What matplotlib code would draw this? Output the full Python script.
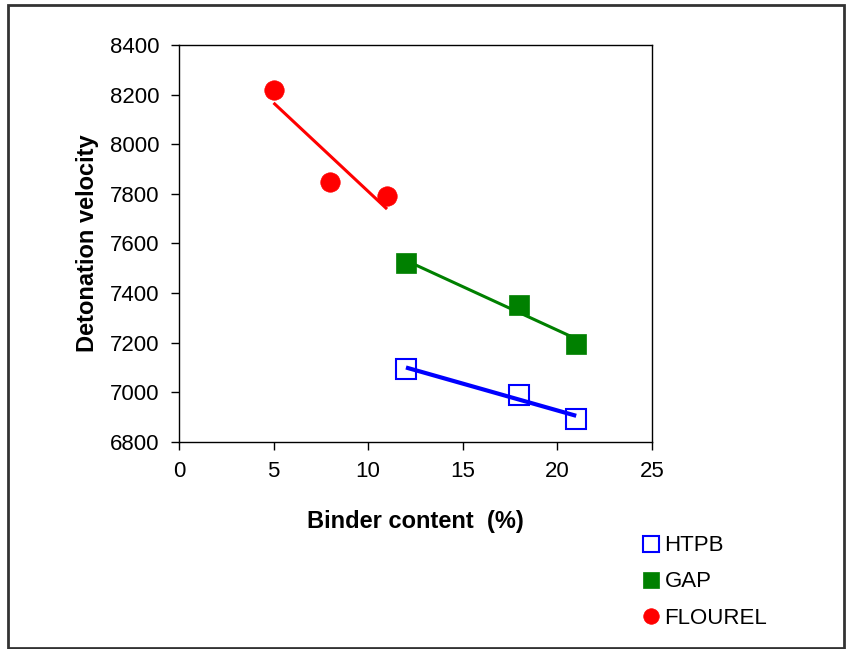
import numpy as np
import matplotlib
matplotlib.use("Agg")
import matplotlib.pyplot as plt
from matplotlib.patches import Rectangle

plt.rcParams['font.family'] = ['Liberation Sans', 'DejaVu Sans']

# Data
binder_flourel = [5, 8, 11]
vod_flourel = [8219, 7848, 7791]
binder_gap = [12, 18, 21]
vod_gap = [7521, 7352, 7195]
binder_htpb = [12, 18, 21]
vod_htpb = [7094, 6989, 6893]

x_ticks = [0, 5, 10, 15, 20, 25]
y_ticks = [6800, 7000, 7200, 7400, 7600, 7800, 8000, 8200, 8400]

fig = plt.figure(figsize=(8.49, 6.49), dpi=100)
ax = fig.add_axes([0.2108, 0.319, 0.557, 0.6117])

series = [
    ('HTPB', binder_htpb, vod_htpb, 's', 'none', '#0000ff', 3.0),
    ('GAP', binder_gap, vod_gap, 's', '#008000', '#008000', 2.2),
    ('FLOUREL', binder_flourel, vod_flourel, 'o', '#ff0000', '#ff0000', 2.2),
]

handles = []
for name, xs, ys, mk, fc, col, lw in series:
    xs = np.array(xs, dtype=float)
    ys = np.array(ys, dtype=float)
    # linear trend line
    k, b = np.polyfit(xs, ys, 1)
    ax.plot([xs[0], xs[-1]], [k * xs[0] + b, k * xs[-1] + b],
            color=col, lw=lw, solid_capstyle='butt', zorder=2)
    h, = ax.plot(xs, ys, linestyle='none', marker=mk, markersize=14,
                 markerfacecolor=fc, markeredgecolor=col,
                 markeredgewidth=1.5 if fc == 'none' else 0.5,
                 label=name, zorder=3)
    handles.append(h)

ax.set_xlim(0, 25)
ax.set_ylim(6800, 8400)
ax.set_xticks(x_ticks)
ax.set_yticks(y_ticks)
ax.tick_params(direction='out', length=6, width=1, labelsize=16, pad=8)
for s in ax.spines.values():
    s.set_linewidth(1)

ax.set_xlabel('Binder content  (%)', fontsize=17, fontweight='bold', labelpad=20)
ax.set_ylabel('Detonation velocity', fontsize=17, fontweight='bold', labelpad=8)

leg = fig.legend(handles=handles, loc='upper left',
                 bbox_to_anchor=(0.733, 0.206), frameon=False,
                 fontsize=16, handlelength=0.8, handletextpad=0.2,
                 labelspacing=0.68, markerscale=0.8)

# outer frame
fig.add_artist(Rectangle((0.009, 0.002), 0.985, 0.990,
                         transform=fig.transFigure, fill=False,
                         edgecolor='#333333', linewidth=2))

fig.savefig('out.png', dpi=100, facecolor='white')
